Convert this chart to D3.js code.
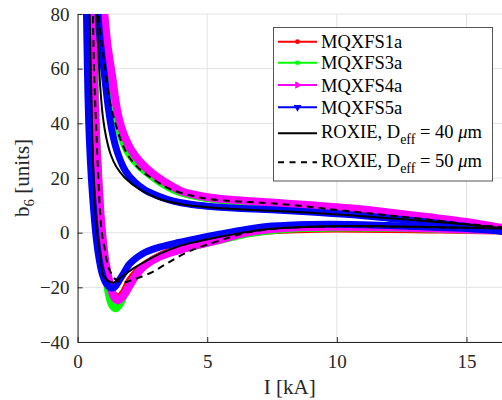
<!DOCTYPE html>
<html>
<head>
<meta charset="utf-8">
<script src="https://cdn.jsdelivr.net/npm/d3@7"></script>
<style>
  body { margin: 0; background: #fff; }
  svg { display: block; }
</style>
</head>
<body>
<div id="chart"></div>
<script>
  // =====================================================
  // DATA  ([I kA, b6 units]) - up ramp / down ramp
  // =====================================================

  const mqxfs1aUp = [[0.58,88],[0.6,75],[0.63,55],[0.68,38],[0.76,20],[0.86,5],[0.97,-6],[1.1,-14],[1.25,-19.5],[1.42,-22.8],[1.58,-23.5],[1.75,-22],[2.0,-17.5],[2.3,-14],[2.6,-11.5],[3.2,-8.2],[3.9,-5.8],[4.6,-4],[5.5,-2.2],[6.5,-0.3],[7.5,0.7],[8.5,1.1],[10,1.3],[12,1.2],[13.5,1],[15,0.8],[16.4,0.6]];
  const mqxfs1aDown = [[0.93,88],[1.02,78],[1.12,68],[1.27,58],[1.47,45],[1.67,37.5],[2.0,30],[2.4,25.3],[2.8,21.8],[3.3,18.3],[4,14.8],[5,12.6],[6,11.6],[7.5,10.5],[9,9.6],[10.5,8.4],[12,6.9],[13.5,5.3],[15,3.5],[16.4,1.3]];

  const mqxfs3aUp = [[0.62,88],[0.65,70],[0.69,50],[0.74,35],[0.81,20],[0.9,5],[1.0,-8],[1.1,-17],[1.2,-23],[1.33,-26.8],[1.48,-27.8],[1.65,-26],[1.85,-22],[2.1,-17.5],[2.6,-12],[3.2,-8.6],[3.9,-6.5],[4.6,-4.8],[5.5,-2.8],[6.5,-0.6],[7.5,0.7],[8.5,1.4],[10,1.7],[12,1.6],[13.5,1.3],[15,1],[16.4,0.7]];
  const mqxfs3aDown = [[0.86,88],[0.92,78],[1.02,68],[1.16,58],[1.38,45],[1.58,37.5],[1.9,30],[2.3,25],[2.7,21.6],[3.2,18.2],[3.9,14.8],[5,12.5],[6,11.5],[7.5,10.4],[9,9.5],[10.5,8.3],[12,6.8],[13.5,5.2],[15,3.4],[16.4,1.2]];

  const mqxfs4aUp = [[0.57,88],[0.6,75],[0.64,55],[0.7,38],[0.8,20],[0.9,5],[1.0,-5],[1.1,-12],[1.25,-19],[1.4,-23.5],[1.55,-24.8],[1.75,-23.3],[2.0,-19.5],[2.3,-15],[2.6,-12],[3.2,-8.6],[3.9,-6.4],[4.6,-4.6],[5.5,-2.5],[6.5,0],[7.5,1.3],[8.5,2],[10,2.2],[12,2],[13.5,1.6],[15,1.2],[16.4,0.9]];
  const mqxfs4aDown = [[0.96,88],[1.05,78],[1.16,68],[1.32,58],[1.52,45],[1.72,37.5],[2.05,30.5],[2.45,25.5],[2.85,22],[3.35,18.6],[4,15.2],[5,13],[6,12],[7.5,11],[9,10],[10.5,8.9],[12,7.4],[13.5,5.7],[15,3.9],[16.4,1.6]];

  const mqxfs5aUp = [[0.33,88],[0.36,70],[0.4,50],[0.45,35],[0.53,20],[0.63,7],[0.72,-2],[0.82,-9],[0.95,-15],[1.1,-18.5],[1.28,-20.2],[1.42,-20],[1.6,-17.5],[1.8,-14.5],[2.0,-11.5],[2.3,-9],[2.6,-7.2],[3.2,-5.2],[3.9,-3.6],[4.6,-2.2],[5.5,-0.5],[6.5,1.2],[7.5,2.4],[9,3],[10.5,3],[12,2.6],[13.5,2.1],[15,1.5],[16.4,0.7]];
  const mqxfs5aDown = [[0.75,88],[0.8,78],[0.9,68],[1.03,58],[1.18,46],[1.33,37],[1.55,29],[1.85,22.5],[2.2,18.5],[2.6,15.6],[3.1,13.4],[3.7,11.5],[4.4,10.3],[5,9.7],[6,9],[7.5,8.4],[9,7.6],[10.5,6.6],[12,5.3],[13.5,3.9],[15,2.3],[16.4,0.4]];

  const roxie40Up = [[0.45,88],[0.48,72],[0.52,55],[0.56,38],[0.61,22],[0.67,10],[0.74,1],[0.82,-5],[0.9,-10.5],[0.98,-15.5],[1.1,-17],[1.37,-18.3],[1.6,-16.8],[1.9,-14.8],[2.2,-12.8],[2.6,-10.6],[3.2,-7.6],[3.9,-5],[4.6,-3.3],[5.5,-1.5],[6.5,0.2],[7.5,1.4],[9,2.2],[10.5,2.4],[12,2.3],[13.5,2.1],[15,1.8],[16.4,1.5]];
  const roxie40Down = [[0.72,88],[0.76,76],[0.82,62],[0.9,50],[0.98,42],[1.1,35],[1.28,28.5],[1.5,24],[1.83,20],[2.4,15.8],[3.1,12.5],[4,10.4],[5,9.3],[6,8.7],[7.5,8],[9,7.3],[10.5,6.4],[12,5.3],[13.5,4.2],[15,3],[16.4,1.6]];

  const roxie50Up = [[0.58,88],[0.6,75],[0.65,55],[0.72,38],[0.8,20],[0.87,7],[0.95,-1],[1.05,-6],[1.13,-10.5],[1.25,-14],[1.45,-17],[1.75,-18.2],[2.2,-17],[2.84,-14.6],[3.4,-11.5],[3.9,-8.8],[4.5,-6],[5,-4.4],[5.8,-1.9],[6.5,-0.1],[7.3,1.1],[8.2,1.9],[10.1,2.3],[12,2.2],[13.5,2],[15,1.8],[16.4,1.6]];
  const roxie50Down = [[0.75,88],[0.8,80],[0.92,70],[1.06,60],[1.2,50],[1.4,42],[1.7,33],[2.0,27.5],[2.4,23.2],[3.0,19],[3.6,15.8],[4.3,13.8],[5,12.4],[6.2,11.4],[7.4,10.8],[8.8,9.6],[10.1,8.2],[12,6.3],[13.5,4.8],[15,3.2],[16.4,2]];

  const xTicks = [0, 5, 10, 15];
  const yTicks = [-40, -20, 0, 20, 40, 60, 80];

  const seriesNames = ["MQXFS1a", "MQXFS3a", "MQXFS4a", "MQXFS5a", "ROXIE 40", "ROXIE 50"];

  // =====================================================
  // LAYOUT
  // =====================================================

  const width = 502, height = 400;
  const margin = { top: 14, right: 0, bottom: 58, left: 77.6 };
  const FONT = "Liberation Serif";

  const x = d3.scaleLinear().domain([0, 16.37]).range([margin.left, width - margin.right]);
  const y = d3.scaleLinear().domain([-40, 80]).range([height - margin.bottom, margin.top]);

  const svg = d3.select("#chart").append("svg")
    .attr("width", width)
    .attr("height", height);

  svg.append("defs").append("clipPath").attr("id", "plotClip")
    .append("rect")
    .attr("x", margin.left)
    .attr("y", margin.top)
    .attr("width", width - margin.left - margin.right)
    .attr("height", height - margin.top - margin.bottom);

  // grid
  svg.append("g").selectAll("line").data(xTicks).join("line")
    .attr("x1", d => x(d)).attr("x2", d => x(d))
    .attr("y1", margin.top).attr("y2", height - margin.bottom)
    .style("stroke", "#e3e3e3").style("stroke-width", 1);

  svg.append("g").selectAll("line").data(yTicks).join("line")
    .attr("x1", margin.left).attr("x2", width - margin.right)
    .attr("y1", d => y(d)).attr("y2", d => y(d))
    .style("stroke", "#e3e3e3").style("stroke-width", 1);

  // =====================================================
  // CURVES
  // =====================================================

  const line = d3.line()
    .x(d => x(d[0]))
    .y(d => y(d[1]))
    .curve(d3.curveCatmullRom.alpha(0.5));

  const series = [
    { up: mqxfs1aUp, down: mqxfs1aDown, color: "#ff0000", w: 7 },
    { up: mqxfs3aUp, down: mqxfs3aDown, color: "#00ff00", w: 7 },
    { up: mqxfs4aUp, down: mqxfs4aDown, color: "#ff00ff", w: 8 },
    { up: mqxfs5aUp, down: mqxfs5aDown, color: "#0000ff", w: 7 },
    { up: roxie40Up, down: roxie40Down, color: "#000000", w: 2 },
    { up: roxie50Up, down: roxie50Down, color: "#000000", w: 2, dash: "7,5" },
  ];

  const plot = svg.append("g").attr("clip-path", "url(#plotClip)");

  series.forEach(s => {
    [s.up, s.down].forEach(branch => {
      plot.append("path")
        .datum(branch)
        .attr("d", line)
        .style("fill", "none")
        .style("stroke", s.color)
        .style("stroke-width", s.w)
        .style("stroke-linejoin", "round")
        .style("stroke-linecap", s.dash ? "butt" : "round")
        .style("stroke-dasharray", s.dash || null);
    });
  });

  // =====================================================
  // AXES
  // =====================================================

  const xAxis = svg.append("g")
    .attr("transform", `translate(0,${height - margin.bottom})`)
    .call(d3.axisBottom(x).tickValues(xTicks).tickSizeInner(-5).tickSizeOuter(0).tickPadding(13));

  const yAxis = svg.append("g")
    .attr("transform", `translate(${margin.left},0)`)
    .call(d3.axisLeft(y).tickValues(yTicks).tickSizeInner(-5).tickSizeOuter(0).tickPadding(8));

  [xAxis, yAxis].forEach(a => {
    a.attr("font-family", FONT).attr("font-size", 19);
    a.select(".domain").style("stroke", "#262626");
    a.selectAll(".tick line").style("stroke", "#262626");
    a.selectAll(".tick text").attr("font-family", FONT).style("fill", "#262626");
  });

  svg.append("text")
    .attr("x", (margin.left + width) / 2)
    .attr("y", 394)
    .attr("text-anchor", "middle")
    .attr("font-family", FONT)
    .attr("font-size", 21)
    .style("fill", "#262626")
    .text("I [kA]");

  const yLabel = svg.append("text")
    .attr("transform", `translate(29,${(margin.top + height - margin.bottom) / 2}) rotate(-90)`)
    .attr("text-anchor", "middle")
    .attr("font-family", FONT)
    .attr("font-size", 21)
    .style("fill", "#262626");
  yLabel.append("tspan").text("b");
  yLabel.append("tspan").attr("dy", 5).attr("font-size", 15).text("6");
  yLabel.append("tspan").attr("dy", -5).text(" [units]");

  // =====================================================
  // LEGEND
  // =====================================================

  const legend = svg.append("g");

  legend.append("rect")
    .attr("x", 273.5).attr("y", 27.5)
    .attr("width", 219).attr("height", 153.5)
    .style("fill", "#fff")
    .style("stroke", "#555")
    .style("stroke-width", 1);

  const rowsY = [41.7, 62.7, 85, 107.3, 133.3, 162.3];
  const symbols = [
    { type: d3.symbolCircle, size: 18, rot: 0 },
    { type: d3.symbolSquare, size: 16, rot: 0 },
    { type: d3.symbolTriangle, size: 26, rot: 90 },
    { type: d3.symbolTriangle, size: 26, rot: 180 },
  ];

  series.forEach((s, i) => {
    const ry = rowsY[i];
    legend.append("line")
      .attr("x1", 278).attr("x2", 317)
      .attr("y1", ry).attr("y2", ry)
      .style("stroke", s.color)
      .style("stroke-width", 2)
      .style("stroke-dasharray", s.dash ? "6,5.5" : null);

    if (symbols[i]) {
      legend.append("path")
        .attr("d", d3.symbol().type(symbols[i].type).size(symbols[i].size))
        .attr("transform", `translate(297.5,${ry}) rotate(${symbols[i].rot})`)
        .style("fill", s.color);
    }

    const t = legend.append("text")
      .attr("x", 321)
      .attr("y", ry + 6.5)
      .attr("font-family", FONT)
      .attr("font-size", 18.5)
      .style("fill", "#000");

    if (i < 4) {
      t.text(seriesNames[i]);
    } else {
      const d = i === 4 ? "40" : "50";
      t.attr("y", ry + 5);
      t.append("tspan").text("ROXIE, D");
      t.append("tspan").attr("dy", 6).attr("font-size", 14).text("eff");
      t.append("tspan").attr("dy", -6).text(` = ${d} `);
      t.append("tspan").style("font-style", "italic").text("\u03bc");
      t.append("tspan").text("m");
    }
  });
</script>
</body>
</html>
